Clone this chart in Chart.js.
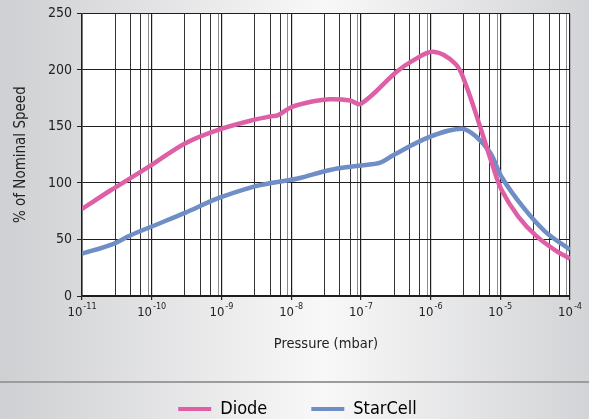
<!DOCTYPE html>
<html>
<head>
<meta charset="utf-8">
<script src="https://cdn.jsdelivr.net/npm/chart.js@4/dist/chart.umd.min.js"></script>
<style>
  html, body { margin: 0; padding: 0; background: #e4e5e7; }
  #wrap { width: 589px; height: 419px; }
</style>
</head>
<body>
<div id="wrap"><canvas id="speed" width="589" height="419"></canvas></div>
<script>
// pressure (mbar) / % of nominal speed
const diodePressure = [1e-11, 2.65e-11, 4.9e-11, 1e-10, 3e-10, 9e-10, 3e-9, 5.2e-9, 6.5e-9, 1e-8,
  2e-8, 3.6e-8, 7e-8, 1e-7, 3.2e-7, 5.5e-7, 1.1e-6, 2.3e-6, 3.2e-6, 5e-6, 7.9e-6, 1.04e-5,
  1.8e-5, 3.3e-5, 6.3e-5, 1e-4];
const diodeSpeed = [77, 94, 104, 116, 135, 147, 156, 159, 160, 167,
  172, 174, 173, 170, 198, 208, 216, 205, 187, 152, 114, 94,
  70.5, 53, 40, 33];

const starCellPressure = [1e-11, 2.65e-11, 4.9e-11, 1e-10, 3e-10, 9e-10, 3e-9, 5.2e-9, 1.25e-8,
  3.6e-8, 1e-7, 1.9e-7, 2.9e-7, 9.5e-7, 2.8e-6, 4.6e-6, 7.3e-6, 1.04e-5, 2.1e-5, 4.4e-5, 1e-4];
const starCellSpeed = [37.5, 45.5, 53.5, 61.5, 73.5, 86.5, 97, 100, 104,
  111.5, 115.5, 118, 124.5, 140.5, 148, 140.5, 126, 105.5, 79, 57, 41];

const yTicks = [0, 50, 100, 150, 200, 250];
const decadeExps = [-11, -10, -9, -8, -7, -6, -5, -4];
const minorMults = [3, 5, 7, 9];

const FONT = "'Liberation Sans Narrow', 'DejaVu Sans Condensed', 'Roboto', sans-serif";
const PINK = '#de5fa6';
const BLUE = '#6f8ec6';

const toPoints = (xs, ys) => xs.map((x, i) => ({ x, y: ys[i] }));

const isDecade = (v) => Math.abs(Math.log10(v) - Math.round(Math.log10(v))) < 1e-6;

// page background, white plot area and the separator line above the legend
const backdrop = {
  id: 'backdrop',
  beforeDraw(chart) {
    const { ctx, width, height, chartArea: a } = chart;
    ctx.save();
    const g = ctx.createLinearGradient(0, 0, width, 0);
    g.addColorStop(0, '#cfd0d3');
    g.addColorStop(0.55, '#f8f8f8');
    g.addColorStop(1, '#d3d4d7');
    ctx.fillStyle = g;
    ctx.fillRect(0, 0, width, height);
    ctx.fillStyle = '#ffffff';
    ctx.fillRect(a.left, a.top, a.right - a.left, a.bottom - a.top);
    ctx.strokeStyle = '#9c9c9c';
    ctx.lineWidth = 2;
    ctx.beginPath();
    ctx.moveTo(0, 382);
    ctx.lineTo(width, 382);
    ctx.stroke();
    ctx.restore();
  }
};

// x tick labels as 10 with a raised exponent
const powerLabels = {
  id: 'powerLabels',
  afterDraw(chart) {
    const { ctx } = chart;
    const x = chart.scales.x;
    ctx.save();
    ctx.fillStyle = '#222';
    ctx.textBaseline = 'alphabetic';
    ctx.textAlign = 'left';
    for (const e of decadeExps) {
      const px = x.getPixelForValue(Math.pow(10, e));
      ctx.font = `13px ${FONT}`;
      const wBase = ctx.measureText('10').width;
      ctx.font = `9px ${FONT}`;
      const exp = '-' + Math.abs(e);
      const wExp = ctx.measureText(exp).width;
      const left = px - (wBase + wExp + 1) / 2;
      ctx.font = `13px ${FONT}`;
      ctx.fillText('10', left, 316);
      ctx.font = `9px ${FONT}`;
      ctx.fillText(exp, left + wBase + 1, 309);
    }
    ctx.restore();
  }
};

new Chart(document.getElementById('speed').getContext('2d'), {
  type: 'line',
  data: {
    datasets: [
      {
        label: 'Diode',
        data: toPoints(diodePressure, diodeSpeed),
        borderColor: PINK,
        backgroundColor: PINK,
        borderWidth: 4.5,
        pointRadius: 0,
        tension: 0.35,
        fill: false
      },
      {
        label: 'StarCell',
        data: toPoints(starCellPressure, starCellSpeed),
        borderColor: BLUE,
        backgroundColor: BLUE,
        borderWidth: 4.5,
        pointRadius: 0,
        tension: 0.35,
        fill: false
      }
    ]
  },
  options: {
    responsive: false,
    animation: false,
    layout: { padding: { top: 12, right: 19, left: 25, bottom: 0 } },
    plugins: {
      tooltip: { enabled: false },
      legend: {
        position: 'bottom',
        maxHeight: 63,
        labels: {
          boxWidth: 33,
          boxHeight: 4,
          padding: 44,
          color: '#222',
          font: { family: FONT, size: 18 },
          generateLabels: (chart) => chart.data.datasets.map((d, i) => ({
            text: d.label,
            fillStyle: d.borderColor,
            strokeStyle: d.borderColor,
            lineWidth: 0,
            datasetIndex: i
          }))
        }
      }
    },
    scales: {
      x: {
        type: 'logarithmic',
        min: 1e-11,
        max: 1e-4,
        afterBuildTicks: (scale) => {
          const ticks = [];
          decadeExps.forEach((e, i) => {
            ticks.push({ value: Math.pow(10, e) });
            if (i < decadeExps.length - 1) {
              minorMults.forEach(m => ticks.push({ value: m * Math.pow(10, e) }));
            }
          });
          scale.ticks = ticks;
        },
        afterFit: (scale) => { scale.height = 60; },
        ticks: { display: false },
        grid: {
          color: (c) => {
            const v = c.tick && c.tick.value;
            if (!v) return '#222';
            if (isDecade(v)) return '#1e1e1e';
            const m = Math.round(v / Math.pow(10, Math.floor(Math.log10(v) + 1e-9)));
            return m === 9 ? '#8a8a8a' : '#333';
          },
          lineWidth: (c) => (c.tick && c.tick.value && isDecade(c.tick.value)) ? 1.2 : 1,
          tickLength: 4,
          tickColor: (c) => (c.tick && isDecade(c.tick.value)) ? '#222' : 'rgba(0,0,0,0)'
        },
        border: { color: '#1e1e1e', width: 1.5 },
        title: {
          display: true,
          text: 'Pressure (mbar)',
          color: '#222',
          font: { family: FONT, size: 14.5 },
          padding: { top: 0, bottom: 3 }
        }
      },
      y: {
        min: 0,
        max: 250,
        afterBuildTicks: (scale) => { scale.ticks = yTicks.map(v => ({ value: v })); },
        afterFit: (scale) => { scale.width = 57; },
        ticks: {
          color: '#222',
          padding: 5,
          font: { family: FONT, size: 14 }
        },
        grid: {
          color: '#1e1e1e',
          lineWidth: 1,
          tickLength: 5,
          tickColor: '#222'
        },
        border: { color: '#1e1e1e', width: 1.5 },
        title: {
          display: true,
          text: '% of Nominal Speed',
          color: '#222',
          font: { family: FONT, size: 15 },
          padding: { top: -13, bottom: 0 }
        }
      }
    }
  },
  plugins: [backdrop, powerLabels]
});
</script>
</body>
</html>
